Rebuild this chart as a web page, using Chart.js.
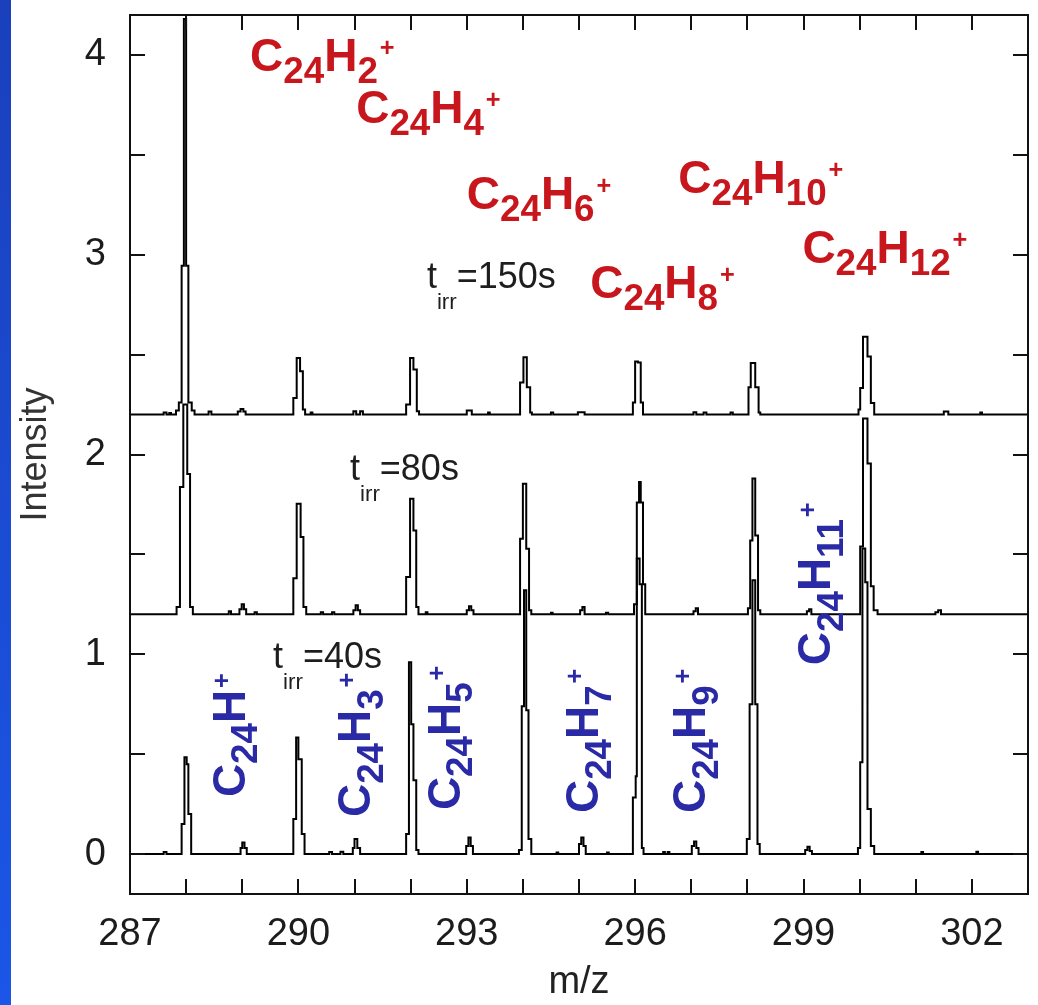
<!DOCTYPE html>
<html>
<head>
<meta charset="utf-8">
<title>C24Hn+ mass spectra</title>
<script src="https://cdn.jsdelivr.net/npm/chart.js@4.4.1/dist/chart.umd.min.js"></script>
<style>
  html, body { margin: 0; padding: 0; background: #fff; }
  #wrap { position: relative; width: 1038px; height: 1005px; }
  #edge { position: absolute; left: 0; top: 0; width: 11px; height: 1005px; background: linear-gradient(#1a40bc, #1b56e8); }
  canvas { position: absolute; left: 0; top: 0; }
</style>
</head>
<body>
<div id="wrap"><div id="edge"></div><canvas id="spectrum" width="1038" height="1005"></canvas></div>
<script>
// spectra as step points [m/z, intensity above the trace's own baseline]
const spec40 = [
  [287.0, 0], [287.6, 0.01], [287.65, 0],
  [287.92, 0.15], [287.97, 0.485], [288.01, 0.45], [288.04, 0.2], [288.09, 0],
  [288.97, 0.03], [289.0, 0.058], [289.04, 0.03], [289.08, 0],
  [289.91, 0.175], [289.96, 0.583], [290.0, 0.475], [290.06, 0.1], [290.11, 0],
  [290.55, 0.01], [290.6, 0], [290.75, 0.012], [290.8, 0],
  [290.97, 0.03], [291.0, 0.075], [291.05, 0.03], [291.1, 0],
  [291.92, 0.1], [291.97, 0.96], [292.01, 0.65], [292.05, 0.37], [292.1, 0.02], [292.14, 0],
  [292.99, 0.04], [293.03, 0.083], [293.07, 0.04], [293.11, 0],
  [293.93, 0.02], [293.98, 0.74], [294.02, 1.32], [294.06, 0.72], [294.1, 0.075], [294.15, 0],
  [294.6, 0.008], [294.63, 0],
  [295.0, 0.05], [295.04, 0.083], [295.08, 0.04], [295.12, 0],
  [295.5, 0.008], [295.53, 0],
  [295.96, 0.283], [296.01, 0.39], [296.03, 1.48], [296.08, 1.35], [296.12, 0.03], [296.15, 0],
  [296.5, 0.01], [296.53, 0], [296.58, 0.01], [296.61, 0],
  [297.01, 0.04], [297.05, 0.063], [297.09, 0.03], [297.13, 0],
  [297.99, 0.075], [298.04, 0.75], [298.09, 1.37], [298.14, 0.75], [298.18, 0.05], [298.22, 0],
  [299.03, 0.02], [299.07, 0.037], [299.11, 0.015], [299.15, 0],
  [299.97, 0.03], [300.01, 0.46], [300.05, 1.53], [300.1, 1.36], [300.14, 0.225], [300.2, 0.04], [300.26, 0],
  [301.1, 0.01], [301.13, 0],
  [302.08, 0.012], [302.11, 0],
  [303.0, 0]
];

const spec80 = [
  [287.0, 0],
  [287.83, 0.037], [287.89, 0.637], [287.95, 1.05], [288.02, 0.703], [288.07, 0.037], [288.12, 0],
  [288.76, 0.015], [288.8, 0],
  [288.95, 0.025], [288.99, 0.05], [289.03, 0.025], [289.07, 0],
  [289.22, 0.01], [289.26, 0],
  [289.91, 0.18], [289.97, 0.553], [290.04, 0.387], [290.09, 0.037], [290.14, 0],
  [290.4, 0.01], [290.44, 0], [290.6, 0.01], [290.64, 0],
  [290.98, 0.02], [291.02, 0.045], [291.06, 0.02], [291.1, 0],
  [291.92, 0.187], [291.99, 0.578], [292.05, 0.42], [292.1, 0.037], [292.14, 0],
  [292.27, 0.01], [292.3, 0],
  [293.0, 0.02], [293.04, 0.04], [293.08, 0.02], [293.12, 0],
  [293.95, 0.378], [294.0, 0.653], [294.06, 0.328], [294.11, 0.02], [294.15, 0],
  [294.5, 0.008], [294.53, 0],
  [295.02, 0.02], [295.06, 0.037], [295.1, 0],
  [295.48, 0.008], [295.52, 0],
  [295.98, 0.05], [296.03, 0.56], [296.07, 0.662], [296.1, 0.56], [296.14, 0.15], [296.18, 0],
  [297.04, 0.015], [297.08, 0.03], [297.12, 0],
  [298.01, 0.03], [298.05, 0.37], [298.09, 0.68], [298.14, 0.395], [298.19, 0.02], [298.23, 0],
  [299.06, 0.015], [299.1, 0.025], [299.14, 0],
  [300.01, 0.34], [300.06, 0.98], [300.14, 0.755], [300.2, 0.14], [300.25, 0.02], [300.32, 0],
  [301.35, 0.01], [301.4, 0.02], [301.45, 0],
  [303.0, 0]
];

const spec150 = [
  [287.0, 0],
  [287.6, 0.01], [287.65, 0], [287.7, 0.008], [287.73, 0],
  [287.82, 0.02], [287.87, 0.06], [287.92, 0.745], [287.96, 1.98], [288.0, 0.745], [288.04, 0.06], [288.1, 0.02], [288.15, 0],
  [288.4, 0.015], [288.45, 0],
  [288.92, 0.015], [288.97, 0.028], [289.02, 0.015], [289.06, 0],
  [289.91, 0.083], [289.97, 0.283], [290.03, 0.217], [290.08, 0.025], [290.12, 0],
  [290.22, 0.01], [290.25, 0],
  [290.98, 0.017], [291.03, 0], [291.1, 0.017], [291.15, 0],
  [291.92, 0.05], [291.99, 0.283], [292.05, 0.225], [292.11, 0.017], [292.15, 0],
  [293.0, 0.02], [293.09, 0],
  [293.38, 0.01], [293.41, 0],
  [293.95, 0.16], [294.01, 0.287], [294.07, 0.137], [294.13, 0.01], [294.16, 0],
  [294.5, 0.01], [294.54, 0],
  [294.98, 0.012], [295.1, 0],
  [295.96, 0.06], [296.0, 0.265], [296.05, 0.26], [296.1, 0.06], [296.14, 0],
  [297.04, 0.012], [297.09, 0], [297.22, 0.01], [297.27, 0],
  [297.7, 0.01], [297.74, 0],
  [298.02, 0.137], [298.06, 0.258], [298.14, 0.137], [298.2, 0.01], [298.23, 0],
  [299.98, 0.025], [300.01, 0.133], [300.06, 0.39], [300.14, 0.29], [300.2, 0.058], [300.26, 0],
  [301.5, 0.015], [301.58, 0],
  [302.15, 0.01], [302.18, 0],
  [303.0, 0]
];

const traces = [spec40, spec80, spec150];
const traceOffsets = [0, 1.2, 2.2];   // vertical stacking of the three spectra
const traceLabels = ['t_{irr}=40s', 't_{irr}=80s', 't_{irr}=150s'];

// annotations, placed in data coordinates
const evenIons = ['C_{24}H_{2}^{+}', 'C_{24}H_{4}^{+}', 'C_{24}H_{6}^{+}', 'C_{24}H_{8}^{+}', 'C_{24}H_{10}^{+}', 'C_{24}H_{12}^{+}'];
const oddIons = ['C_{24}H^{+}', 'C_{24}H_{3}^{+}', 'C_{24}H_{5}^{+}', 'C_{24}H_{7}^{+}', 'C_{24}H_{9}^{+}', 'C_{24}H_{11}^{+}'];
const evenAt = [[289.14, 3.92], [291.03, 3.66], [293.0, 3.23], [295.2, 2.785], [296.77, 3.31], [298.98, 2.96]];
const oddAt = [[289.05, 0.285], [291.28, 0.185], [292.88, 0.22], [295.34, 0.205], [297.25, 0.205], [299.48, 0.945]];
const timeAt = [[289.55, 0.93], [290.92, 1.87], [292.29, 2.835]];

const FAMILY = '"Liberation Sans", Arial, Helvetica, sans-serif';
const ionStyle = { weight: 'bold', size: 46, subScale: 0.8, subDrop: 0.27, supScale: 0.55, supRise: 0.32 };
const timeStyle = { weight: 'normal', size: 36, subScale: 0.62, subDrop: 0.58, supScale: 0.6, supRise: 0.4 };

// draws text with _{sub} and ^{sup} parts, left/baseline anchored at (x, y)
function drawRich(ctx, text, x, y, st, color, angle) {
  const parts = text.match(/_\{[^}]*\}|\^\{[^}]*\}|[^_^]+/g);
  ctx.save();
  ctx.translate(x, y);
  ctx.rotate(angle || 0);
  ctx.fillStyle = color;
  ctx.textAlign = 'left';
  ctx.textBaseline = 'alphabetic';
  let cx = 0;
  parts.forEach(p => {
    let s = p, fs = st.size, dy = 0;
    if (p[0] === '_') { s = p.slice(2, -1); fs = st.size * st.subScale; dy = st.size * st.subDrop; }
    else if (p[0] === '^') { s = p.slice(2, -1); fs = st.size * st.supScale; dy = -st.size * st.supRise; cx += st.size * 0.04; }
    ctx.font = st.weight + ' ' + fs + 'px ' + FAMILY;
    ctx.fillText(s, cx, dy);
    cx += ctx.measureText(s).width;
  });
  ctx.restore();
}

const frameAndLabels = {
  id: 'frameAndLabels',
  afterDatasetsDraw(chart) {
    const { ctx, chartArea: a, scales: { x, y } } = chart;
    const tick = 15;
    ctx.save();
    ctx.strokeStyle = '#111';
    ctx.lineWidth = 2;
    ctx.strokeRect(a.left, a.top, a.right - a.left, a.bottom - a.top);
    ctx.beginPath();
    x.ticks.forEach(t => {
      const px = Math.round(x.getPixelForValue(t.value));
      ctx.moveTo(px, a.bottom); ctx.lineTo(px, a.bottom - tick);
      ctx.moveTo(px, a.top); ctx.lineTo(px, a.top + tick);
    });
    y.ticks.forEach(t => {
      const py = Math.round(y.getPixelForValue(t.value));
      ctx.moveTo(a.left, py); ctx.lineTo(a.left + tick, py);
      ctx.moveTo(a.right, py); ctx.lineTo(a.right - tick, py);
    });
    ctx.stroke();
    ctx.restore();

    traceLabels.forEach((t, i) => {
      drawRich(ctx, t, x.getPixelForValue(timeAt[i][0]), y.getPixelForValue(timeAt[i][1]), timeStyle, '#1e1e1e');
    });
    evenIons.forEach((t, i) => {
      drawRich(ctx, t, x.getPixelForValue(evenAt[i][0]), y.getPixelForValue(evenAt[i][1]), ionStyle, '#c8161d');
    });
    oddIons.forEach((t, i) => {
      drawRich(ctx, t, x.getPixelForValue(oddAt[i][0]), y.getPixelForValue(oddAt[i][1]), ionStyle, '#2a2aa6', -Math.PI / 2);
    });
  }
};

const datasets = traces.map((tr, i) => ({
  label: traceLabels[i],
  data: tr.map(([mz, v]) => ({ x: mz, y: v + traceOffsets[i] })),
  showLine: true,
  stepped: true,
  borderColor: '#000',
  borderWidth: 2,
  pointRadius: 0,
  fill: false
}));

new Chart(document.getElementById('spectrum'), {
  type: 'scatter',
  data: { datasets },
  options: {
    responsive: false,
    animation: false,
    layout: { padding: { top: 15, right: 10, left: 0, bottom: 0 } },
    plugins: { legend: { display: false }, tooltip: { enabled: false } },
    scales: {
      x: {
        type: 'linear', min: 287, max: 303,
        grid: { display: false, drawTicks: false },
        border: { display: false },
        ticks: {
          stepSize: 1, autoSkip: false, maxRotation: 0, padding: 18,
          color: '#1c1c1c', font: { family: FAMILY, size: 38 },
          callback: v => (Math.round(v - 287) % 3 === 0 ? String(v) : '')
        },
        title: { display: true, text: 'm/z', color: '#222', font: { family: FAMILY, size: 38 }, padding: 0 },
        afterFit: s => { s.height = 111; s.paddingLeft = 0; s.paddingRight = 0; }
      },
      y: {
        min: -0.2, max: 4.2,
        grid: { display: false, drawTicks: false },
        border: { display: false },
        ticks: {
          stepSize: 0.5, includeBounds: false, padding: 24,
          color: '#1c1c1c', font: { family: FAMILY, size: 38 },
          callback: v => (Number.isInteger(v) ? String(v) : '')
        },
        title: { display: true, text: 'Intensity', color: '#333', font: { family: FAMILY, size: 36 }, padding: 14 },
        afterFit: s => { s.width = 130; s.paddingTop = 0; s.paddingBottom = 0; }
      }
    }
  },
  plugins: [frameAndLabels]
});
</script>
</body>
</html>
